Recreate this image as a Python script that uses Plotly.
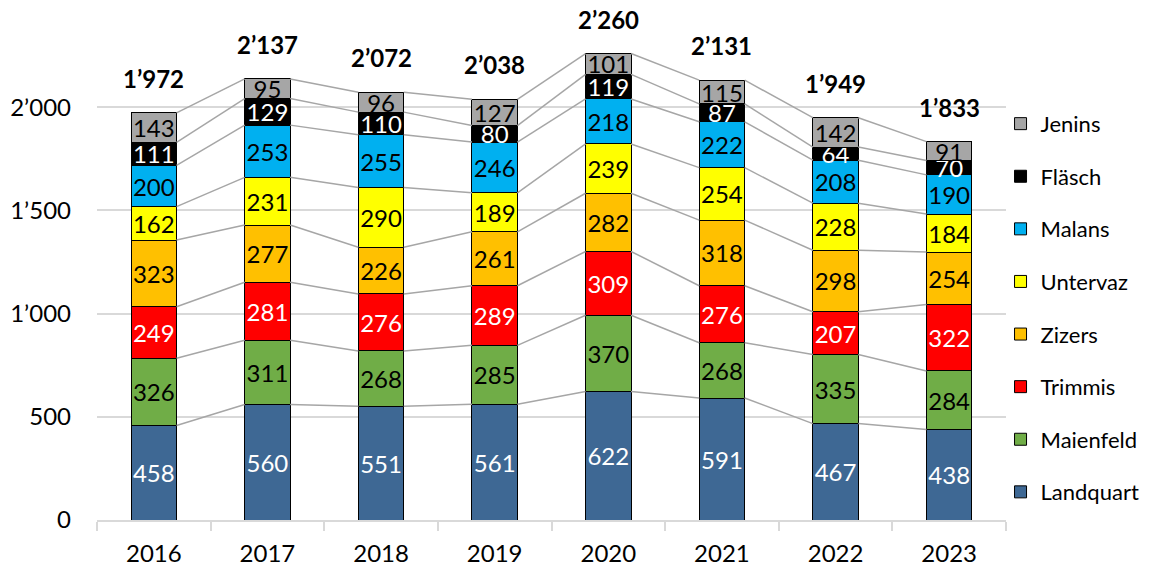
import plotly.graph_objects as go

years = ["2016", "2017", "2018", "2019", "2020", "2021", "2022", "2023"]
series_names = ["Landquart", "Maienfeld", "Trimmis", "Zizers", "Untervaz", "Malans", "Fläsch", "Jenins"]
landquart = [458, 560, 551, 561, 622, 591, 467, 438]
maienfeld = [326, 311, 268, 285, 370, 268, 335, 284]
trimmis = [249, 281, 276, 289, 309, 276, 207, 322]
zizers = [323, 277, 226, 261, 282, 318, 298, 254]
untervaz = [162, 231, 290, 189, 239, 254, 228, 184]
malans = [200, 253, 255, 246, 218, 222, 208, 190]
flaesch = [111, 129, 110, 80, 119, 87, 64, 70]
jenins = [143, 95, 96, 127, 101, 115, 142, 91]
y_tickvals = [0, 500, 1000, 1500, 2000]
y_ticktext = ["0", "500", "1’000", "1’500", "2’000"]

series_values = [landquart, maienfeld, trimmis, zizers, untervaz, malans, flaesch, jenins]
colors = ["#3E6894", "#70AD47", "#FF0000", "#FFC000", "#FFFF00", "#00B0F0", "#000000", "#A6A6A6"]
text_colors = ["white", "black", "white", "black", "black", "black", "white", "black"]

FONT = "Lato"
FS = 24
BW = 0.4
xs = list(range(len(years)))

def fmt(v):
    s = f"{v:,}"
    return s.replace(",", "’")

fig = go.Figure()

# connector lines
cum = [0] * len(years)
lx, ly = [], []
for vals in series_values:
    cum = [c + v for c, v in zip(cum, vals)]
    for i in range(len(years) - 1):
        lx += [i + BW / 2, i + 1 - BW / 2, None]
        ly += [cum[i], cum[i + 1], None]
fig.add_trace(go.Scatter(x=lx, y=ly, mode="lines", line=dict(color="#A6A6A6", width=1.5),
                         showlegend=False, hoverinfo="skip"))

n = len(series_names)
for k, (name, vals, col, tc) in enumerate(zip(series_names, series_values, colors, text_colors)):
    fig.add_trace(go.Bar(
        x=xs, y=vals, name=name, width=BW,
        marker=dict(color=col, line=dict(color="black", width=1)),
        text=[str(v) for v in vals], textposition="inside", insidetextanchor="middle",
        textangle=0, textfont=dict(family=FONT, size=FS, color=tc),
        legendgroup=name, legendrank=100 * (n - k),
    ))

totals = [sum(v[i] for v in series_values) for i in range(len(years))]
for i, t in enumerate(totals):
    fig.add_annotation(x=i, y=t, text=f"<b>{fmt(t)}</b>", showarrow=False, yanchor="bottom",
                       yshift=18, font=dict(family=FONT, size=FS, color="black"))

fig.update_layout(
    barmode="stack",
    width=1152, height=565,
    margin=dict(l=97, r=146, t=5, b=45, autoexpand=False),
    plot_bgcolor="white", paper_bgcolor="white",
    font=dict(family=FONT, size=FS, color="black"),
    uniformtext=dict(minsize=FS, mode="show"),
    legend=dict(traceorder="grouped", x=0.994, xanchor="left", y=0.81, yanchor="top",
                tracegroupgap=21, font=dict(family=FONT, size=22), itemwidth=30,
                bgcolor="rgba(0,0,0,0)"),
    showlegend=True,
)
fig.update_xaxes(
    range=[-0.5, len(years) - 0.5], tickvals=xs, ticktext=years, ticks="",
    showline=True, linecolor="#D9D9D9", linewidth=1.5, showgrid=False, zeroline=False,
    ticklabelstandoff=11, automargin=False,
    minor=dict(tickvals=[i - 0.5 for i in range(len(years) + 1)], ticks="outside",
               ticklen=9, tickcolor="#D9D9D9", tickwidth=1.5, showgrid=False),
)
fig.update_yaxes(
    range=[0, 2495], tickvals=y_tickvals, ticktext=y_ticktext, showgrid=True,
    gridcolor="#D9D9D9", gridwidth=1.5, zeroline=False, showline=False, ticks="",
    ticklabelstandoff=25, automargin=False,
)

fig.write_html("out.html", config={"displayModeBar": False},
               post_script="document.body.style.margin='0';")
